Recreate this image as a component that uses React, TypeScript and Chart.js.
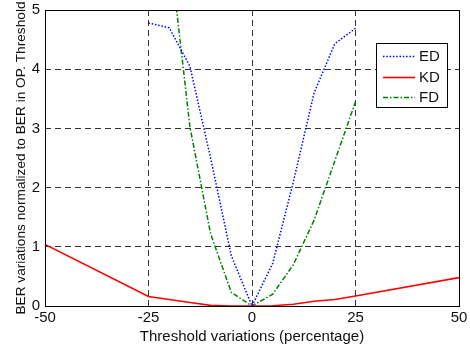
import React, { useEffect, useRef } from "react";
import { Chart, registerables } from "chart.js";

Chart.register(...registerables);

const xED = [-25, -20, -15, -10, -5, 0, 5, 10, 15, 20, 25];
const yED = [4.78, 4.7, 4.05, 2.5, 0.85, 0, 0.72, 2.1, 3.6, 4.43, 4.69];

const xKD = [-50, -25, -20, -15, -10, -5, 0, 5, 10, 15, 20, 25, 50];
const yKD = [1.04, 0.16, 0.11, 0.06, 0.01, 0, 0, 0.005, 0.03, 0.08, 0.11, 0.17, 0.48];

const xFD = [-20, -15, -10, -5, 0, 5, 10, 15, 20, 25];
const yFD = [6.1, 3.03, 1.22, 0.23, 0, 0.2, 0.7, 1.45, 2.45, 3.45];

const xTicks = [-50, -25, 0, 25, 50];
const yTicks = [0, 1, 2, 3, 4, 5];

const seriesLabels = ["ED", "KD", "FD"];

const FONT = "'Liberation Sans', Arial, sans-serif";
const TXT = "#111";

const pts = (xs: number[], ys: number[]) => xs.map((x, i) => ({ x, y: ys[i] }));

const boxAndLegend = {
  id: "boxAndLegend",
  afterDatasetsDraw(chart: any) {
    const { ctx, chartArea: a } = chart;
    ctx.save();
    ctx.strokeStyle = "#000";
    ctx.lineWidth = 1;
    ctx.setLineDash([]);
    ctx.strokeRect(Math.round(a.left) + 0.5, Math.round(a.top) + 0.5, Math.round(a.right - a.left), Math.round(a.bottom - a.top));
    // legend
    const bx = 376, by = 43, bw = 71, bh = 64;
    ctx.fillStyle = "#fff";
    ctx.fillRect(bx, by, bw, bh);
    ctx.strokeRect(bx + 0.5, by + 0.5, bw, bh);
    const rows = [56, 77, 97];
    chart.data.datasets.forEach((ds: any, i: number) => {
      const y = rows[i] + 0.5;
      ctx.strokeStyle = ds.borderColor;
      ctx.lineWidth = ds.borderWidth;
      ctx.setLineDash(ds.borderDash || []);
      ctx.beginPath();
      ctx.moveTo(383, y);
      ctx.lineTo(415, y);
      ctx.stroke();
      ctx.setLineDash([]);
      ctx.fillStyle = TXT;
      ctx.font = `15px ${FONT}`;
      ctx.textBaseline = "middle";
      ctx.textAlign = "left";
      ctx.fillText(ds.label, 419, rows[i] + 1);
    });
    ctx.restore();
  },
};

export default function App() {
  const ref = useRef<HTMLCanvasElement>(null);
  useEffect(() => {
    if (!ref.current) return;
    const gridCfg = {
      color: "#333",
      lineWidth: 1,
      drawTicks: false,
    };
    const chart = new Chart(ref.current, {
      type: "line",
      data: {
        datasets: [
          {
            label: seriesLabels[0],
            data: pts(xED, yED),
            borderColor: "#0000ff",
            borderWidth: 1.5,
            borderDash: [1.5, 1.8],
            pointRadius: 0,
            fill: false,
            tension: 0,
          },
          {
            label: seriesLabels[1],
            data: pts(xKD, yKD),
            borderColor: "#ff0000",
            borderWidth: 1.6,
            pointRadius: 0,
            fill: false,
            tension: 0,
          },
          {
            label: seriesLabels[2],
            data: pts(xFD, yFD),
            borderColor: "#008000",
            borderWidth: 1.5,
            borderDash: [5, 2, 1.5, 2],
            pointRadius: 0,
            fill: false,
            tension: 0,
          },
        ],
      },
      options: {
        animation: false,
        responsive: false,
        devicePixelRatio: 1,
        layout: { padding: { left: 0, right: 11, top: 10, bottom: 0 } },
        plugins: { legend: { display: false }, tooltip: { enabled: false } },
        scales: {
          x: {
            type: "linear",
            min: -50,
            max: 50,
            afterBuildTicks: (s: any) => {
              s.ticks = xTicks.map((v) => ({ value: v }));
            },
            afterFit: (s: any) => {
              s.height = 46;
              s.paddingLeft = 0;
              s.paddingRight = 0;
            },
            grid: { ...gridCfg },
            border: { display: false, dash: [6, 4] } as any,
            ticks: { color: TXT, font: { family: FONT, size: 15 }, padding: 3, maxRotation: 0, autoSkip: false },
            title: {
              display: true,
              text: "Threshold variations (percentage)",
              color: TXT,
              font: { family: FONT, size: 15 },
              padding: { top: 0, bottom: 6 },
            },
          },
          y: {
            type: "linear",
            min: 0,
            max: 5,
            afterBuildTicks: (s: any) => {
              s.ticks = yTicks.map((v) => ({ value: v }));
            },
            afterFit: (s: any) => {
              s.width = 45;
              s.paddingTop = 0;
              s.paddingBottom = 0;
            },
            grid: { ...gridCfg },
            border: { display: false, dash: [6, 4] } as any,
            ticks: { color: TXT, font: { family: FONT, size: 15 }, padding: 5, autoSkip: false },
            title: {
              display: true,
              text: "BER variations normalized to BER in OP. Threshold",
              color: TXT,
              font: { family: FONT, size: 13.7 },
              padding: { top: 13, bottom: 0 },
            },
          },
        },
      },
      plugins: [boxAndLegend],
    } as any);
    return () => chart.destroy();
  }, []);
  return (
    <div style={{ position: "fixed", left: 0, top: 0, width: 470, height: 352, background: "#fff" }}>
      <canvas ref={ref} width={470} height={352} />
    </div>
  );
}
